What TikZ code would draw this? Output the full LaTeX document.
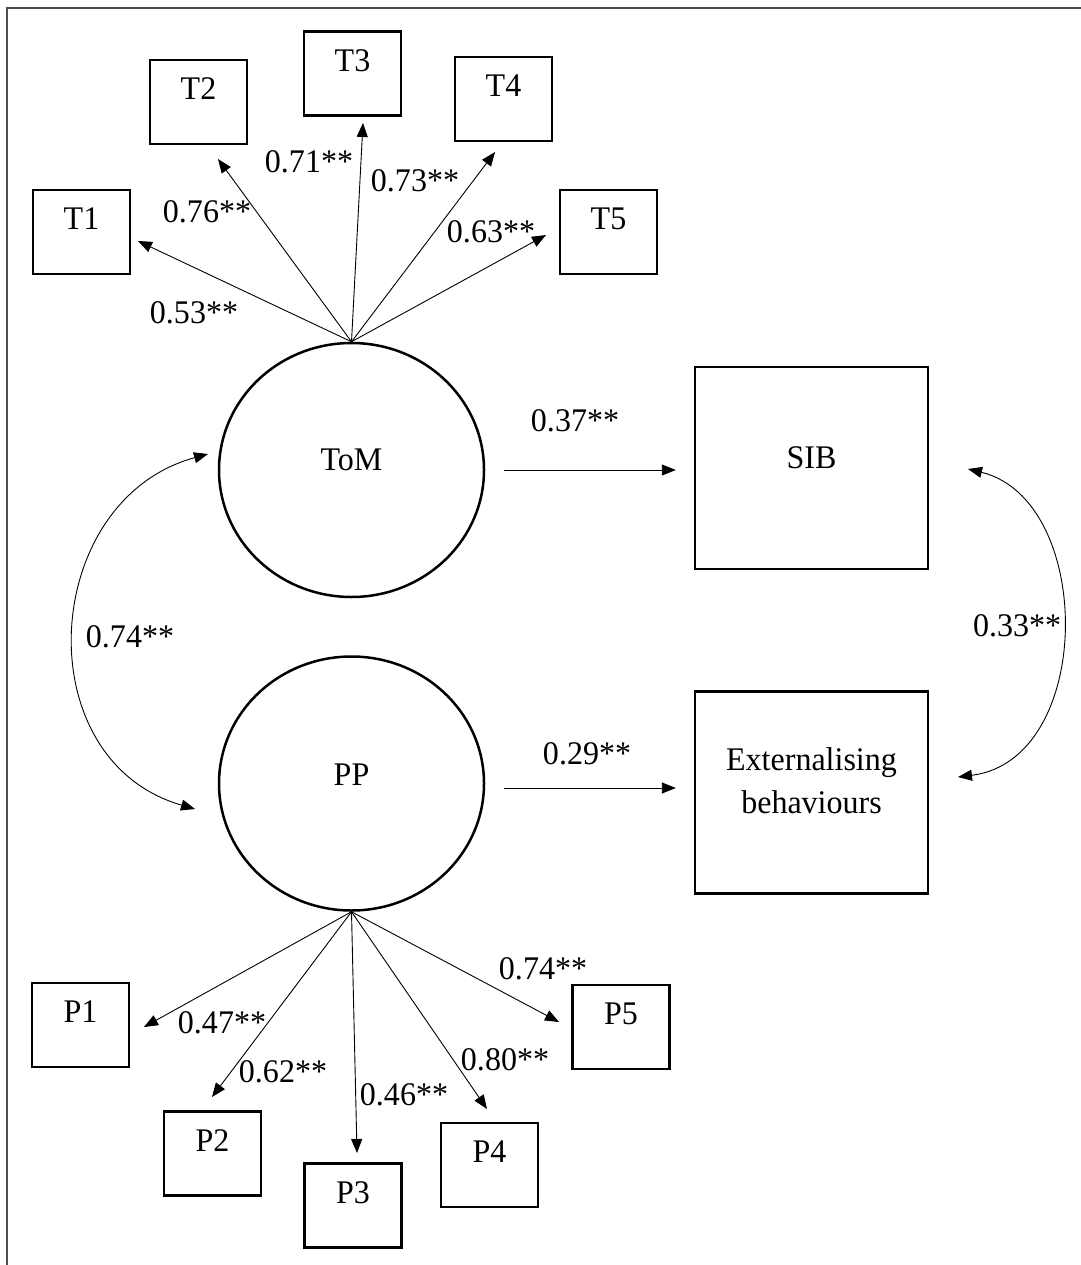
\documentclass[tikz,border=0pt]{standalone}
\usepackage{fontspec}
\setmainfont[FakeStretch=0.97]{Liberation Serif}
\usetikzlibrary{arrows.meta,shapes.geometric,calc}
\newcommand\figfont{\fontsize{33}{43}\selectfont}
\begin{document}
\begin{tikzpicture}[x=1pt,y=-1pt,
  every node/.style={font=\figfont},
  indicator/.style={draw,line width=2.4pt,minimum width=97pt,minimum height=84pt,inner sep=0pt},
  outcome/.style={draw,line width=2.4pt,minimum width=233pt,minimum height=202pt,inner sep=0pt},
  latent/.style={draw,ellipse,line width=2.5pt,minimum width=265pt,minimum height=254pt,inner sep=0pt},
  boxtext/.style={label={[inner sep=0pt,yshift=13pt]center:#1}},
  loading/.style={line width=0.9pt,-{Triangle[length=14pt,width=11pt]}},
  covpath/.style={line width=0.9pt,{Triangle[length=14pt,width=11pt]}-{Triangle[length=14pt,width=11pt]}},
  coef/.style={inner sep=0pt}
]
\useasboundingbox (0,0) rectangle (1080,1265);

% outer frame (open to the right and bottom)
\draw[line width=1.2pt,black!70] (7,1290) -- (7,8) -- (1095,8);

% latent factors
\node[latent,label={[inner sep=0pt,yshift=10pt]center:ToM}] (tom) at (351.5,470) {};
\node[latent,label={[inner sep=0pt,yshift=9pt]center:PP}] (pp) at (351.5,783.5) {};

% outcomes
\node[outcome,label={[inner sep=0pt,yshift=10pt]center:SIB}] (sib) at (811.5,468) {};
\node[outcome,label={[inner sep=0pt,yshift=12pt,align=center]center:Externalising\\behaviours}] (ext) at (811.5,792.5) {};

% ToM indicators
\node[indicator,boxtext=T1] (t1) at (81.5,232) {};
\node[indicator,boxtext=T2] (t2) at (198.5,102) {};
\node[indicator,boxtext=T3] (t3) at (352.5,73.5) {};
\node[indicator,boxtext=T4] (t4) at (503.5,99) {};
\node[indicator,boxtext=T5] (t5) at (608.5,232) {};

% PP indicators
\node[indicator,boxtext=P1] (p1) at (80.5,1025) {};
\node[indicator,boxtext=P2] (p2) at (212.5,1153.5) {};
\node[indicator,boxtext=P3] (p3) at (353,1205.5) {};
\node[indicator,boxtext=P4] (p4) at (489.5,1165) {};
\node[indicator,boxtext=P5] (p5) at (621,1027) {};

% arrow end points
\coordinate (et1) at (138,241);
\coordinate (et2) at (218,159);
\coordinate (et3) at (363,123);
\coordinate (et4) at (495,152);
\coordinate (et5) at (546,235);
\coordinate (ep1) at (144,1027);
\coordinate (ep2) at (212,1097);
\coordinate (ep3) at (357,1153);
\coordinate (ep4) at (487,1109);
\coordinate (ep5) at (559,1022);

% factor loadings
\foreach \e in {et1,et2,et3,et4,et5} \draw[loading] (tom.north) -- (\e);
\foreach \e in {ep1,ep2,ep3,ep4,ep5} \draw[loading] (pp.south) -- (\e);

\node[coef] (l1) at (194,313) {0.53**};
\node[coef] (l2) at (207,212) {0.76**};
\node[coef] (l3) at (309,162) {0.71**};
\node[coef] (l4) at (415,181) {0.73**};
\node[coef] (l5) at (491,232) {0.63**};
\node[coef] (m1) at (222,1023) {0.47**};
\node[coef] (m2) at (283,1072) {0.62**};
\node[coef] (m3) at (404,1095) {0.46**};
\node[coef] (m4) at (505,1060) {0.80**};
\node[coef] (m5) at (543,969) {0.74**};

% structural paths
\draw[loading,shorten <=19pt,shorten >=18pt] (tom.east) -- (tom.east -| sib.west);
\node[coef] (b1) at (575,421) {0.37**};
\draw[loading,shorten <=19pt,shorten >=18pt] ([yshift=-4.5pt]pp.east) -- ([yshift=-4.5pt]pp.east -| ext.west);
\node[coef] (b2) at (587,754) {0.29**};

% covariances
\coordinate (ca) at (208,454);
\coordinate (cb) at (195,809);
\draw[covpath] (ca) .. controls (40,500) and (25,760) .. (cb);
\node[coef] (r1) at (130,637) {0.74**};
\coordinate (cc) at (968,469);
\coordinate (cd) at (958,777);
\draw[covpath] (cc) .. controls (1095,500) and (1095,760) .. (cd);
\node[coef] (r2) at (1017,626) {0.33**};
\end{tikzpicture}
\end{document}
